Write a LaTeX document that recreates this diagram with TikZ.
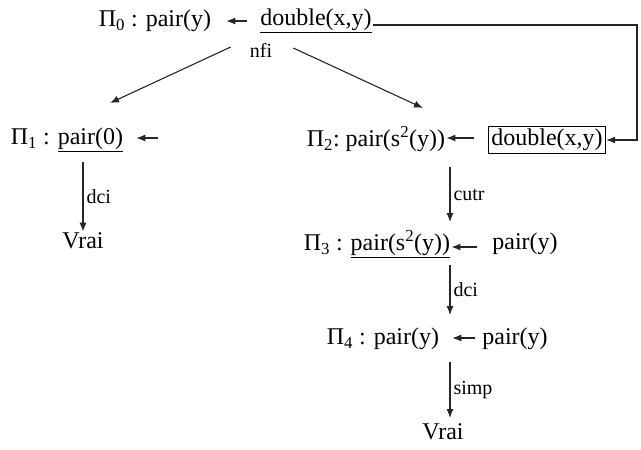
\documentclass[tikz,border=0pt]{standalone}
\usepackage{fontspec}
\setmainfont{Liberation Serif}
\usetikzlibrary{arrows.meta}

\begin{document}
\begin{tikzpicture}[x=1pt,y=-1pt,
    txt/.style={inner sep=1pt,font=\fontsize{24}{26}\selectfont},
    lbl/.style={inner sep=3pt,font=\fontsize{20}{22}\selectfont},
    arr/.style={-{Latex[length=9pt,width=7pt]},line width=1.1pt,draw=black!85}]
    \useasboundingbox (0,0) rectangle (641,450);

    % root
    \node[txt] (p0) at (155,21) {Π\textsubscript{0} : pair(y)};
    \node[txt] (d0) at (316,21) {\underline{double(x,y)}};
    \node[lbl] (nfi) at (261,50) {nfi};

    % left branch
    \node[txt] (p1) at (67,140) {Π\textsubscript{1} : \underline{pair(0)}};
    \node[txt] (v1) at (83,241) {Vrai};

    % right branch
    \node[txt] (p2) at (376,139) {Π\textsubscript{2}:\ pair(s\textsuperscript{2}(y))};
    \node[txt,draw,line width=1pt,inner sep=3pt] (b2) at (547,140) {double(x,y)};
    \node[txt] (p3) at (377,244) {Π\textsubscript{3} : \underline{pair(s\textsuperscript{2}(y))}};
    \node[txt] (q3) at (525,244) {pair(y)};
    \node[txt] (p4) at (383,339) {Π\textsubscript{4} : pair(y)};
    \node[txt] (q4) at (515,339) {pair(y)};
    \node[txt] (v4) at (443,432) {Vrai};

    \coordinate (turn) at (637,25);
    \coordinate (l1) at (110,103);
    \coordinate (l2) at (423,108);
    \coordinate (e1) at (158,138);
    \coordinate (col) at (450,0);

    \draw[arr,shorten <=12pt,shorten >=14pt] (d0) -- (p0);
    \draw[arr] (d0.east |- turn) -- (turn) |- (b2.east);
    \draw[arr] ([xshift=-16pt,yshift=3pt]nfi.west) -- (l1);
    \draw[arr] ([xshift=18pt,yshift=2pt]nfi.east) -- (l2);

    \draw[arr,shorten >=12pt] (e1) -- (p1.east |- e1);
    \draw[arr] (v1 |- 0,162) -- (v1.north) node[lbl,midway,right] {dci};

    \draw[arr,shorten <=14pt] (b2.west |- 0,138) -- (p2.east |- 0,138);
    \draw[arr] (col |- 0,167) -- (col |- 0,222) node[lbl,midway,right] {cutr};
    \draw[arr,shorten <=14pt] (q3.west |- 0,247) -- (p3.east |- 0,247);
    \draw[arr] (col |- 0,265) -- (col |- 0,315) node[lbl,midway,right] {dci};
    \draw[arr,shorten <=6pt] (q4.west |- 0,338) -- ([xshift=12pt]p4.east |- 0,338);
    \draw[arr] (col |- 0,362) -- (col |- 0,418) node[lbl,midway,right] {simp};
\end{tikzpicture}
\end{document}
